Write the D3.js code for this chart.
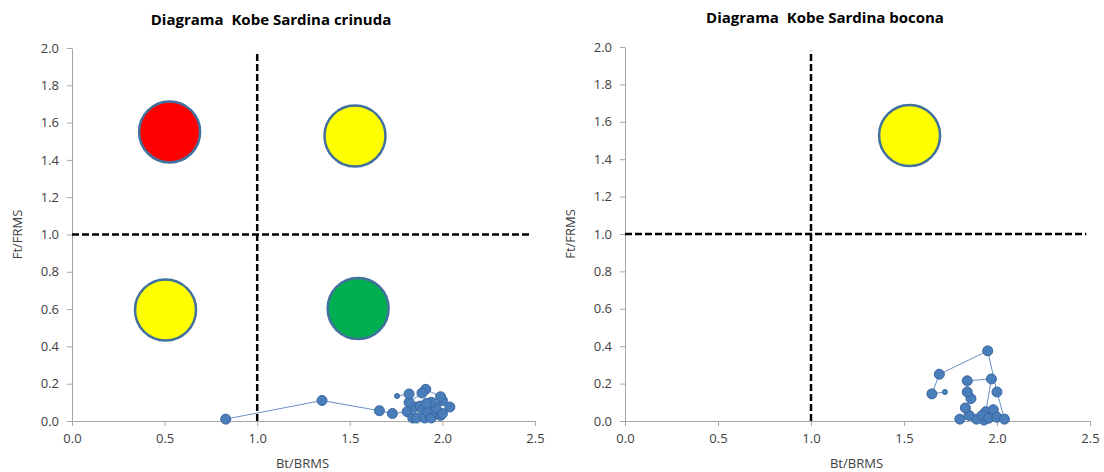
<!DOCTYPE html>
<html>
<head>
<meta charset="utf-8">
<script src="https://cdn.jsdelivr.net/npm/d3@7"></script>
<style>
	body { margin: 0; background: #fff; }
	svg text { font-family: "Open Sans", "Liberation Sans", sans-serif; white-space: pre; }
</style>
</head>
<body>
<svg id="chart" width="1104" height="472"></svg>
<script>
// ---- data ----
const titles = ['Diagrama  Kobe Sardina crinuda', 'Diagrama  Kobe Sardina bocona'];
const xTicks = [0, 0.5, 1.0, 1.5, 2.0, 2.5];
const yTicks = [0, 0.2, 0.4, 0.6, 0.8, 1.0, 1.2, 1.4, 1.6, 1.8, 2.0];

// Sardina crinuda trajectory (Bt/BRMS, Ft/FRMS), last point = small marker
const crinudaBt = [0.83, 1.35, 1.66, 1.73, 1.81, 1.84, 1.86, 1.85, 1.88, 1.895, 1.905, 1.93, 1.92,
	1.94, 1.97, 1.99, 2.0, 2.04, 2.0, 1.965, 1.94, 1.915, 1.99, 1.91, 1.89, 1.82, 1.82, 1.755];
const crinudaFt = [0.01, 0.11, 0.055, 0.04, 0.05, 0.016, 0.016, 0.075, 0.08, 0.06, 0.016, 0.03, 0.05,
	0.016, 0.045, 0.03, 0.04, 0.075, 0.11, 0.07, 0.10, 0.095, 0.13, 0.17, 0.15, 0.10, 0.145, 0.134];

// Sardina bocona trajectory
const boconaBt = [1.93, 1.89, 1.80, 1.85, 1.83, 1.86, 1.84, 1.84, 1.97, 1.94, 1.92, 1.955, 1.98,
	2.0, 2.04, 2.0, 1.95, 1.69, 1.65, 1.72];
const boconaFt = [0.005, 0.01, 0.01, 0.03, 0.07, 0.12, 0.155, 0.215, 0.225, 0.05, 0.03, 0.015, 0.06,
	0.02, 0.01, 0.155, 0.375, 0.25, 0.145, 0.155];

// status circles (centre in axis units)
const crinudaCircles = [
	{ x: 0.527, y: 1.55, color: '#ff0000' },
	{ x: 1.528, y: 1.528, color: '#ffff00' },
	{ x: 0.505, y: 0.595, color: '#ffff00' },
	{ x: 1.545, y: 0.603, color: '#00b050' }
];
const boconaCircles = [
	{ x: 1.53, y: 1.527, color: '#ffff00' }
];

const refBt = 1.0, refFt = 1.0;

const svg = d3.select('#chart');

const panels = [
	{ title: titles[0], bt: crinudaBt, ft: crinudaFt, circles: crinudaCircles,
		x0: 72, x1: 535, y0: 421, y1: 48, titleX: 271, titleY: 25 },
	{ title: titles[1], bt: boconaBt, ft: boconaFt, circles: boconaCircles,
		x0: 625, x1: 1090, y0: 421, y1: 47, titleX: 825, titleY: 23 }
];

panels.forEach(p => {
	const x = d3.scaleLinear().domain([0, 2.5]).range([p.x0, p.x1]);
	const y = d3.scaleLinear().domain([0, 2]).range([p.y0, p.y1]);
	const g = svg.append('g');

	g.append('text')
		.attr('x', p.titleX).attr('y', p.titleY)
		.attr('text-anchor', 'middle')
		.attr('font-size', 15).attr('font-weight', 'bold').attr('fill', '#000')
		.text(p.title);

	// axes
	const xAxis = g.append('g').attr('transform', `translate(0,${p.y0})`)
		.call(d3.axisBottom(x).tickValues(xTicks).tickFormat(d3.format('.1f')).tickSize(5).tickSizeOuter(0));
	const yAxis = g.append('g').attr('transform', `translate(${p.x0},0)`)
		.call(d3.axisLeft(y).tickValues(yTicks).tickFormat(d3.format('.1f')).tickSize(5).tickSizeOuter(0));
	[xAxis, yAxis].forEach(a => {
		a.select('.domain').attr('stroke', '#a6a6a6');
		a.selectAll('.tick line').attr('stroke', '#a6a6a6');
		a.selectAll('.tick text').attr('fill', '#404040').attr('font-size', 13)
			.style('font-family', '"Open Sans", sans-serif');
	});
	xAxis.selectAll('.tick text').attr('dy', '1.05em');
	yAxis.selectAll('.tick text').attr('x', -13);

	g.append('text')
		.attr('x', (p.x0 + p.x1) / 2 - 1).attr('y', 468)
		.attr('text-anchor', 'middle').attr('font-size', 13).attr('fill', '#404040')
		.text('Bt/BRMS');
	g.append('text')
		.attr('transform', `translate(${p.x0 - 50},${y(1)}) rotate(-90)`)
		.attr('text-anchor', 'middle').attr('font-size', 13).attr('fill', '#404040')
		.text('Ft/FRMS');

	// reference lines
	g.append('line')
		.attr('x1', x(0)).attr('x2', x(2.48)).attr('y1', y(refFt)).attr('y2', y(refFt))
		.attr('stroke', '#000').attr('stroke-width', 2.5).attr('stroke-dasharray', '7,3');
	g.append('line')
		.attr('x1', x(refBt)).attr('x2', x(refBt)).attr('y1', y(0)).attr('y2', y(1.98))
		.attr('stroke', '#000').attr('stroke-width', 2.5).attr('stroke-dasharray', '7,3');

	// status circles
	g.selectAll('circle.status')
		.data(p.circles)
		.enter()
		.append('circle')
			.classed('status', true)
			.attr('cx', d => x(d.x)).attr('cy', d => y(d.y)).attr('r', 30.5)
			.attr('fill', d => d.color).attr('stroke', '#41719c').attr('stroke-width', 2.5);

	// trajectory
	const pts = p.bt.map((b, i) => [b, p.ft[i]]);
	g.append('path')
		.datum(pts)
		.attr('d', d3.line().x(d => x(d[0])).y(d => y(d[1])))
		.attr('fill', 'none').attr('stroke', '#6b8fc4').attr('stroke-width', 1);
	g.selectAll('circle.pt')
		.data(pts)
		.enter()
		.append('circle')
			.classed('pt', true)
			.attr('cx', d => x(d[0])).attr('cy', d => y(d[1]))
			.attr('r', (d, i) => i === pts.length - 1 ? 2.5 : 5)
			.attr('fill', '#4a7ebb').attr('stroke', '#3a67a0').attr('stroke-width', 1);
});
</script>
</body>
</html>
